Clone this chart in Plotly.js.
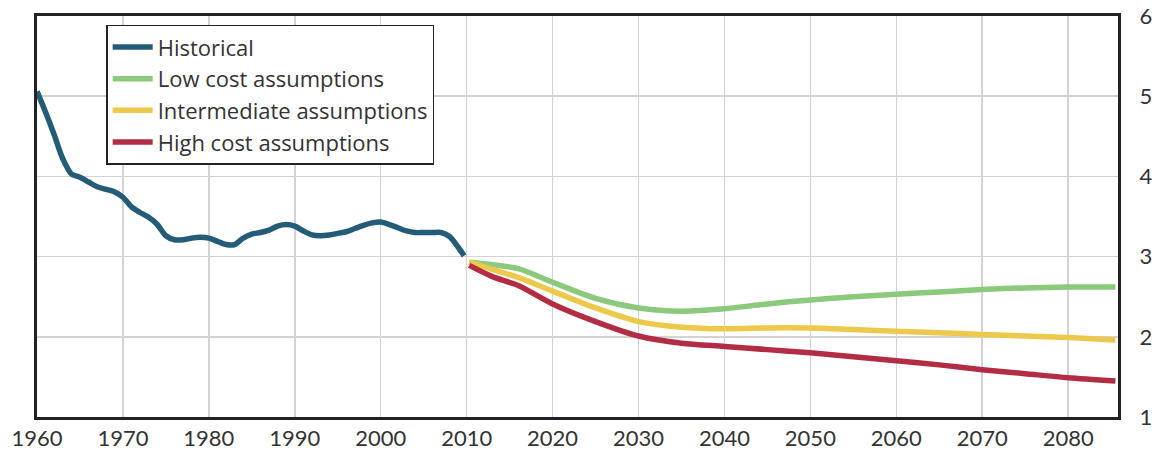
<!DOCTYPE html>
<html>
<head>
<meta charset="utf-8">
<script src="https://cdn.plot.ly/plotly-3.0.1.min.js"></script>
<style>
html,body{margin:0;padding:0;background:#fff;}
#chart{width:1157px;height:451px;}
</style>
</head>
<body>
<div id="chart"></div>
<script>
var histYears = [1960,1961,1962,1963,1964,1965,1966,1967,1968,1969,1970,1971,1972,1973,1974,1975,1976,1977,1978,1979,1980,1981,1982,1983,1984,1985,1986,1987,1988,1989,1990,1991,1992,1993,1994,1995,1996,1997,1998,1999,2000,2001,2002,2003,2004,2005,2006,2007,2008,2009,2009.7];
var histValues = [5.06,4.80,4.52,4.22,4.03,3.99,3.93,3.87,3.84,3.81,3.74,3.62,3.55,3.49,3.40,3.26,3.21,3.21,3.23,3.24,3.23,3.19,3.15,3.15,3.23,3.28,3.30,3.33,3.38,3.40,3.38,3.32,3.27,3.26,3.27,3.29,3.31,3.35,3.39,3.42,3.43,3.40,3.36,3.32,3.30,3.30,3.30,3.30,3.25,3.12,3.01];

var projYears = [2010.3,2013,2016,2020,2025,2030,2035,2040,2045,2050,2055,2060,2065,2070,2075,2080,2085.5];
var lowCost = [2.93,2.90,2.85,2.68,2.48,2.36,2.32,2.35,2.41,2.46,2.50,2.53,2.56,2.59,2.61,2.62,2.62];
var intermediate = [2.93,2.84,2.74,2.57,2.36,2.19,2.12,2.10,2.11,2.11,2.09,2.07,2.05,2.03,2.01,1.99,1.96];
var highCost = [2.89,2.75,2.64,2.41,2.19,2.01,1.92,1.88,1.84,1.80,1.75,1.70,1.65,1.59,1.54,1.49,1.45];

var seriesNames = ["Historical","Low cost assumptions","Intermediate assumptions","High cost assumptions"];
var xTicks = [1960,1970,1980,1990,2000,2010,2020,2030,2040,2050,2060,2070,2080];
var yTicks = [1,2,3,4,5,6];

var fontFam = "Lato, 'Open Sans', sans-serif";
function tr(x,y,name,color){
  return {x:x,y:y,name:name,type:'scatter',mode:'lines',
    line:{color:color,width:5.5,shape:'spline',smoothing:0.8},hoverinfo:'skip'};
}
var data = [
  tr(histYears,histValues,seriesNames[0],'#245c77'),
  tr(projYears,lowCost,seriesNames[1],'#8bc97c'),
  tr(projYears,intermediate,seriesNames[2],'#ecc94a'),
  tr(projYears,highCost,seriesNames[3],'#b22d44')
];
var layout = {
  width:1157,height:451,
  margin:{l:37,r:39,t:16,b:34},
  paper_bgcolor:'#fff',plot_bgcolor:'#fff',
  showlegend:true,
  legend:{x:0.064,y:0.978,xanchor:'left',yanchor:'top',itemwidth:40,
    bgcolor:'#fff',bordercolor:'#222',borderwidth:1.5,
    font:{family:"'Open Sans', Lato, sans-serif",size:22,color:'#333'},tracegroupgap:0},
  xaxis:{range:[1960,2085.8],tickvals:xTicks,ticktext:xTicks.map(String),
    showgrid:true,gridcolor:'#d6d2d2',gridwidth:1.5,
    showline:true,mirror:true,linecolor:'#222',linewidth:3,
    ticks:'',zeroline:false,
    tickfont:{family:fontFam,size:22,color:'#333'}},
  yaxis:{range:[1,6],side:'right',tickvals:yTicks,ticktext:yTicks.map(String),
    showgrid:true,gridcolor:'#d6d2d2',gridwidth:1.5,
    showline:true,mirror:true,linecolor:'#222',linewidth:3,
    ticks:'',ticklabelstandoff:14,zeroline:false,
    tickfont:{family:fontFam,size:22,color:'#333'}}
};
Plotly.newPlot('chart',data,layout,{staticPlot:true});
</script>
</body>
</html>
